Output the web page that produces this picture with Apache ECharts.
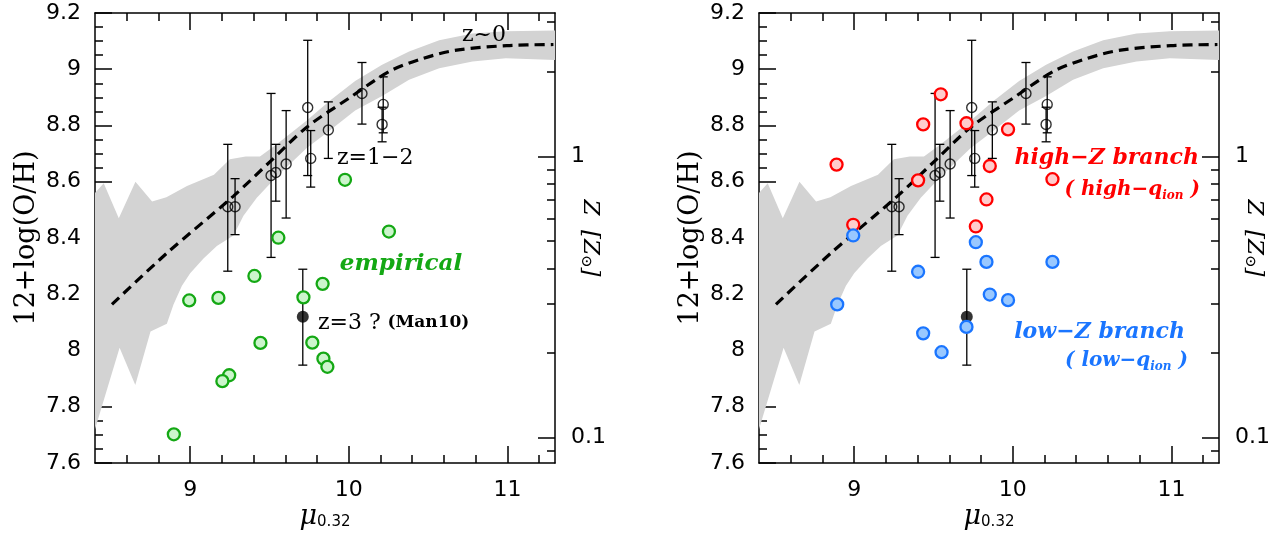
<!DOCTYPE html>
<html><head><meta charset="utf-8">
<script src="https://cdn.jsdelivr.net/npm/echarts@6/dist/echarts.min.js"></script>
<style>html,body{margin:0;padding:0;background:#fff}#c{width:1277px;height:535px}</style>
</head><body><div id="c"></div>
<script>
// ---- axis ticks ----
const xTickMajor = [9, 10, 11];
const xTickMinor = [8.6, 8.8, 9.2, 9.4, 9.6, 9.8, 10.2, 10.4, 10.6, 10.8, 11.2];
const zTickMajor = [0.1, 1];
const zTickMinor = [0.09, 0.2, 0.3, 0.4, 0.5, 0.6, 0.7, 0.8, 0.9, 2, 3];
const SOLAR = 8.69;

// ---- z~0 relation: shaded band and dashed median ----
const bandUpperX = [8.40, 8.455, 8.55, 8.655, 8.76, 8.85, 8.98, 9.15, 9.25, 9.35, 9.44, 9.55, 9.735, 9.88, 10.04, 10.21, 10.38, 10.57, 10.78, 10.99, 11.30];
const bandUpperY = [8.56, 8.595, 8.47, 8.60, 8.53, 8.545, 8.585, 8.625, 8.68, 8.69, 8.69, 8.735, 8.818, 8.888, 8.958, 9.016, 9.063, 9.103, 9.127, 9.135, 9.138];
const bandLowerX = [8.40, 8.555, 8.654, 8.75, 8.853, 8.895, 8.948, 9.00, 9.084, 9.168, 9.273, 9.336, 9.42, 9.546, 9.735, 9.88, 10.04, 10.21, 10.38, 10.57, 10.78, 10.99, 11.30];
const bandLowerY = [7.72, 8.01, 7.877, 8.068, 8.095, 8.164, 8.23, 8.275, 8.327, 8.372, 8.409, 8.479, 8.543, 8.619, 8.72, 8.782, 8.853, 8.905, 8.963, 9.004, 9.028, 9.039, 9.033];
const medianX = [8.507, 8.853, 9.273, 9.514, 9.735, 10.006, 10.258, 10.47, 10.68, 10.995, 11.29];
const medianY = [8.164, 8.346, 8.549, 8.677, 8.794, 8.899, 8.993, 9.039, 9.068, 9.084, 9.088];

// ---- z=1-2 stacks (open circles) ----
const stackX  = [9.237, 9.283, 9.51, 9.54, 9.605, 9.741, 9.76, 9.871, 10.083, 10.217, 10.21];
const stackY  = [8.511, 8.511, 8.622, 8.633, 8.663, 8.864, 8.683, 8.784, 8.914, 8.875, 8.804];
const stackLo = [8.282, 8.412, 8.331, 8.531, 8.471, 8.622, 8.581, 8.683, 8.805, 8.774, 8.742];
const stackHi = [8.733, 8.611, 8.914, 8.733, 8.853, 9.103, 8.782, 8.884, 9.024, 8.973, 8.865];

// ---- z=3 (Man10) ----
const manX = [9.71], manY = [8.12], manLo = [7.948], manHi = [8.289];

// ---- empirical (left panel) ----
const empX = [9.976, 9.556, 10.253, 9.405, 9.835, 8.994, 9.178, 9.714, 9.443, 9.77, 9.84, 9.865, 9.246, 9.203, 8.897];
const empY = [8.607, 8.401, 8.423, 8.265, 8.237, 8.178, 8.187, 8.189, 8.027, 8.028, 7.971, 7.942, 7.912, 7.891, 7.702];

// ---- branches (right panel) ----
const highX = [8.889, 8.994, 9.403, 9.435, 9.546, 9.708, 9.767, 9.834, 9.855, 9.97, 10.25];
const highY = [8.661, 8.447, 8.605, 8.804, 8.911, 8.808, 8.441, 8.537, 8.656, 8.786, 8.609];
const lowX  = [8.893, 8.994, 9.403, 9.435, 9.551, 9.708, 9.767, 9.834, 9.855, 9.97, 10.25];
const lowY  = [8.164, 8.409, 8.280, 8.061, 7.994, 8.084, 8.385, 8.315, 8.199, 8.179, 8.315];

const zip = (...a) => a[0].map((_, i) => a.map(arr => arr[i]));

const BLACK = '#000';
const TICKFONT = 'DejaVu Sans';
const SERIF = 'DejaVu Serif';
const lineSt = {color: BLACK, width: 1.5};

function xAxesFor(g) {
  const base = {type: 'value', gridIndex: g, min: 8.4, max: 11.3, splitLine: {show: false}};
  return [
    Object.assign({}, base, {position: 'bottom',
      axisLine: {show: true, onZero: false, lineStyle: lineSt},
      axisTick: {inside: true, length: 17, customValues: xTickMajor, lineStyle: lineSt},
      axisLabel: {customValues: xTickMajor, margin: 16, fontFamily: TICKFONT, fontSize: 22, color: BLACK},
      name: '{mu|μ}{sub|0.32}', nameLocation: 'middle', nameGap: 40, nameMoveOverlap: false,
      nameTextStyle: {rich: {
        mu: {fontFamily: SERIF, fontStyle: 'italic', fontSize: 27, color: BLACK},
        sub: {fontFamily: TICKFONT, fontSize: 15, color: BLACK, padding: [12, 0, 0, 0]}}}}),
    Object.assign({}, base, {position: 'bottom',
      axisLine: {show: false, onZero: false},
      axisTick: {inside: true, length: 8, customValues: xTickMinor, lineStyle: lineSt},
      axisLabel: {show: false}}),
    Object.assign({}, base, {position: 'top',
      axisLine: {show: true, onZero: false, lineStyle: lineSt},
      axisTick: {inside: true, length: 17, customValues: xTickMajor, lineStyle: lineSt},
      axisLabel: {show: false}}),
    Object.assign({}, base, {position: 'top',
      axisLine: {show: false, onZero: false},
      axisTick: {inside: true, length: 8, customValues: xTickMinor, lineStyle: lineSt},
      axisLabel: {show: false}})
  ];
}
const zPos = z => SOLAR + Math.log10(z);
function yAxesFor(g) {
  const base = {type: 'value', gridIndex: g, min: 7.6, max: 9.2, splitLine: {show: false}};
  return [
    Object.assign({}, base, {position: 'left', interval: 0.2,
      axisLine: {show: true, onZero: false, lineStyle: lineSt},
      axisTick: {inside: true, length: 17, lineStyle: lineSt},
      minorTick: {show: true, splitNumber: 4, length: 8, lineStyle: lineSt},
      axisLabel: {margin: 14, fontFamily: TICKFONT, fontSize: 22, color: BLACK},
      name: '12+log(O/H)', nameLocation: 'middle', nameRotate: 90, nameGap: 55, nameMoveOverlap: false,
      nameTextStyle: {fontFamily: SERIF, fontSize: 27, color: BLACK}}),
    Object.assign({}, base, {position: 'right',
      axisLine: {show: true, onZero: false, lineStyle: lineSt},
      axisTick: {inside: true, length: 17, customValues: zTickMajor.map(zPos), lineStyle: lineSt},
      axisLabel: {customValues: zTickMajor.map(zPos), margin: 16, fontFamily: TICKFONT, fontSize: 22, color: BLACK,
        formatter: v => { const z = Math.pow(10, v - SOLAR); return z < 0.5 ? z.toFixed(1) : String(Math.round(z)); }},
      name: '{a|Z  [Z}{s|⊙}{a|]}', nameLocation: 'middle', nameRotate: -90, nameGap: 23, nameMoveOverlap: false,
      nameTextStyle: {rich: {
        a: {fontFamily: SERIF, fontStyle: 'italic', fontSize: 23, color: BLACK},
        s: {fontFamily: SERIF, fontSize: 15, color: BLACK, padding: [8, 0, 0, 0]}}}}),
    Object.assign({}, base, {position: 'right',
      axisLine: {show: false, onZero: false},
      axisTick: {inside: true, length: 8, customValues: zTickMinor.map(zPos), lineStyle: lineSt},
      axisLabel: {show: false}})
  ];
}

function bandRender(params, api) {
  if (params.dataIndex !== 0) return;
  const pts = [];
  for (let i = 0; i < bandUpperX.length; i++) pts.push(api.coord([bandUpperX[i], bandUpperY[i]]));
  for (let i = bandLowerX.length - 1; i >= 0; i--) pts.push(api.coord([bandLowerX[i], bandLowerY[i]]));
  return {type: 'polygon', shape: {points: pts}, style: {fill: '#d3d3d3'}};
}
function errRender(params, api) {
  const x = api.value(0), lo = api.value(1), hi = api.value(2);
  const a = api.coord([x, hi]), b = api.coord([x, lo]);
  const w = 4.5, st = {stroke: BLACK, lineWidth: 1.3};
  return {type: 'group', children: [
    {type: 'line', shape: {x1: a[0], y1: a[1], x2: b[0], y2: b[1]}, style: st},
    {type: 'line', shape: {x1: a[0] - w, y1: a[1], x2: a[0] + w, y2: a[1]}, style: st},
    {type: 'line', shape: {x1: b[0] - w, y1: b[1], x2: b[0] + w, y2: b[1]}, style: st}]};
}

function commonSeries(xi, yi) {
  return [
    {type: 'custom', xAxisIndex: xi, yAxisIndex: yi, renderItem: bandRender, silent: true, z: 1,
     data: [[bandUpperX[0], bandUpperY[0]]], encode: {x: 0, y: 1}},
    {type: 'line', xAxisIndex: xi, yAxisIndex: yi, data: zip(medianX, medianY), smooth: 0.3, symbol: 'none',
     lineStyle: {color: BLACK, width: 3.2, type: [10, 6]}, z: 3, silent: true},
    {type: 'custom', xAxisIndex: xi, yAxisIndex: yi, renderItem: errRender, z: 4, silent: true,
     data: zip(stackX, stackLo, stackHi).concat(zip(manX, manLo, manHi)), encode: {x: 0, y: [1, 2]}},
    {type: 'scatter', xAxisIndex: xi, yAxisIndex: yi, data: zip(stackX, stackY), symbol: 'circle', symbolSize: 10,
     itemStyle: {color: 'rgba(0,0,0,0)', borderColor: BLACK, borderWidth: 1.4}, z: 5, silent: true},
    {type: 'scatter', xAxisIndex: xi, yAxisIndex: yi, data: zip(manX, manY), symbol: 'circle', symbolSize: 12,
     itemStyle: {color: BLACK}, z: 5, silent: true}
  ];
}
function dots(xi, yi, xs, ys, fill, stroke) {
  return {type: 'scatter', xAxisIndex: xi, yAxisIndex: yi, data: zip(xs, ys), symbol: 'circle', symbolSize: 12,
    itemStyle: {color: fill, borderColor: stroke, borderWidth: 2.3, opacity: 1}, z: 6, silent: true};
}

const GREEN = '#14a814', RED = '#ff0000', BLUE = '#1a75ff';
const txt = (x, y, text, align, rich) => ({type: 'text', x: x, y: y, z: 100,
  style: {text: text, rich: rich, align: align, verticalAlign: 'middle'}});

const option = {
  animation: false,
  backgroundColor: '#fff',
  grid: [
    {left: 95, top: 13, width: 460, height: 458},
    {left: 759, top: 13, width: 460, height: 458}
  ],
  xAxis: xAxesFor(0).concat(xAxesFor(1)),
  yAxis: yAxesFor(0).concat(yAxesFor(1)),
  series: [].concat(
    commonSeries(0, 0),
    [dots(0, 0, empX, empY, '#ccf5cc', GREEN)],
    commonSeries(4, 3),
    [dots(4, 3, highX, highY, '#ffcccc', RED), dots(4, 3, lowX, lowY, '#99c8ff', BLUE)]
  ),
  graphic: [
    txt(484, 35, '{a|z~0}', 'center', {a: {fontFamily: SERIF, fontSize: 22, fill: BLACK}}),
    txt(337, 158, '{a|z=1−2}', 'left', {a: {fontFamily: SERIF, fontSize: 22, fill: BLACK}}),
    txt(401, 264, '{a|empirical}', 'center', {a: {fontFamily: SERIF, fontSize: 23, fontWeight: 'bold', fontStyle: 'italic', fill: GREEN}}),
    txt(318, 323, '{a|z=3 ?}  {b|(Man10)}', 'left', {
      a: {fontFamily: SERIF, fontSize: 22, fill: BLACK},
      b: {fontFamily: SERIF, fontSize: 17, fontWeight: 'bold', fill: BLACK}}),
    txt(1199, 158, '{a|high−Z branch}', 'right', {a: {fontFamily: SERIF, fontSize: 22, fontWeight: 'bold', fontStyle: 'italic', fill: RED}}),
    txt(1200, 190, '{a|( high−q}{s|ion}{a| )}', 'right', {
      a: {fontFamily: SERIF, fontSize: 20, fontWeight: 'bold', fontStyle: 'italic', fill: RED},
      s: {fontFamily: SERIF, fontSize: 12, fontWeight: 'bold', fontStyle: 'italic', fill: RED, padding: [11, 0, 0, 0]}}),
    txt(1185, 332, '{a|low−Z branch}', 'right', {a: {fontFamily: SERIF, fontSize: 22, fontWeight: 'bold', fontStyle: 'italic', fill: BLUE}}),
    txt(1188, 361, '{a|( low−q}{s|ion}{a| )}', 'right', {
      a: {fontFamily: SERIF, fontSize: 20, fontWeight: 'bold', fontStyle: 'italic', fill: BLUE},
      s: {fontFamily: SERIF, fontSize: 12, fontWeight: 'bold', fontStyle: 'italic', fill: BLUE, padding: [11, 0, 0, 0]}})
  ]
};
const chart = echarts.init(document.getElementById('c'), null, {renderer: 'canvas'});
chart.setOption(option);
</script></body></html>
